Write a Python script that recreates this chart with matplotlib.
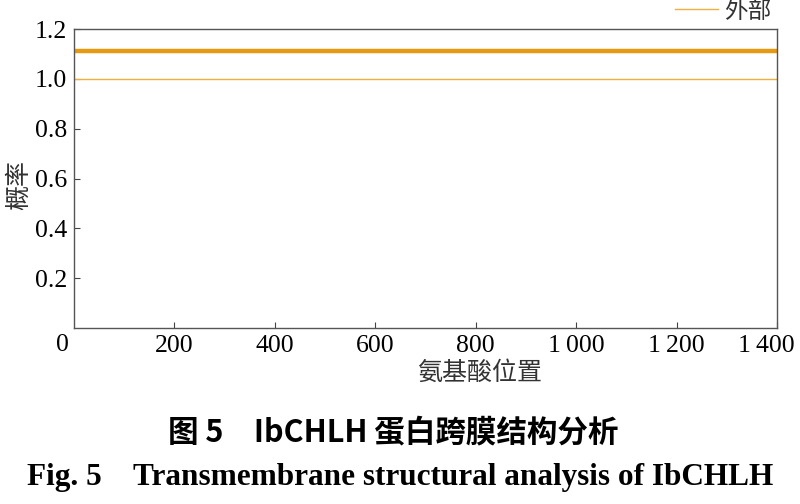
import matplotlib
matplotlib.use("Agg")
import matplotlib.pyplot as plt
from matplotlib.transforms import ScaledTranslation

# data
positions = [0, 1400]
outside_prob = [1.0, 1.0]
total_prob = [1.11, 1.11]
xticks = [200, 400, 600, 800, 1000, 1200, 1400]
xtick_labels = ["200", "400", "600", "800", "1\u2009000", "1\u2009200", "1\u2009400"]
yticks = [0.2, 0.4, 0.6, 0.8, 1.0, 1.2]
ytick_labels = ["0.2", "0.4", "0.6", "0.8", "1.0", "1.2"]

serif = ["Liberation Serif", "DejaVu Serif"]
cjk = ["Noto Sans CJK SC", "DejaVu Sans"]

fig = plt.figure(figsize=(8, 5.04), dpi=100)
ax = fig.add_axes([74/800, 1-328/504, (777-74)/800, (328-29)/504])

ax.plot(positions, total_prob, color="#E59A12", lw=3.2, solid_capstyle="butt")
ax.plot(positions, outside_prob, color="#F0B040", lw=1.0, label="外部")

ax.set_xlim(0, 1400)
ax.set_ylim(0, 1.2)
ax.set_xticks(xticks)
ax.set_xticklabels(xtick_labels, fontfamily=serif, fontsize=18.5)
ax.set_yticks(yticks)
ax.set_yticklabels(ytick_labels, fontfamily=serif, fontsize=18.5)
ax.tick_params(direction="in", length=4, width=0.8, color="#444444", pad=5)
for s in ax.spines.values():
    s.set_color("#555555")
    s.set_linewidth(1.0)

# keep the last x label inside the figure
last = ax.get_xticklabels()[-1]
last.set_transform(last.get_transform() + ScaledTranslation(-11/100, 0, fig.dpi_scale_trans))

ax.text(62/800, 1-345/504, "0", transform=fig.transFigure, ha="center", va="center",
        fontfamily=serif, fontsize=18.5)

fig.text(19/800, 1-185/504, "概率", rotation=90, ha="center", va="center",
         fontfamily=cjk, fontsize=18, color="#333333")
fig.text(480/800, 1-373/504, "氨基酸位置", ha="center", va="center",
         fontfamily=cjk, fontsize=18, color="#333333")

# legend at the top right
fig.lines.append(plt.Line2D([675/800, 718/800], [1-9/504, 1-9/504], transform=fig.transFigure,
                            color="#F0B040", lw=1.0))
fig.text(748/800, 1-12/504, "外部", ha="center", va="center", fontfamily=cjk, fontsize=17,
         color="#333333")

fig.text(393/800, 1-432/504, "图 5\u2003IbCHLH 蛋白跨膜结构分析", ha="center", va="center",
         fontfamily=cjk, fontsize=22, fontweight="bold")
fig.text(400/800, 1-478/504, "Fig. 5\u2003Transmembrane structural analysis of IbCHLH",
         ha="center", va="center", fontfamily=serif, fontsize=22.5, fontweight="bold")

fig.savefig("out.png", dpi=100)
